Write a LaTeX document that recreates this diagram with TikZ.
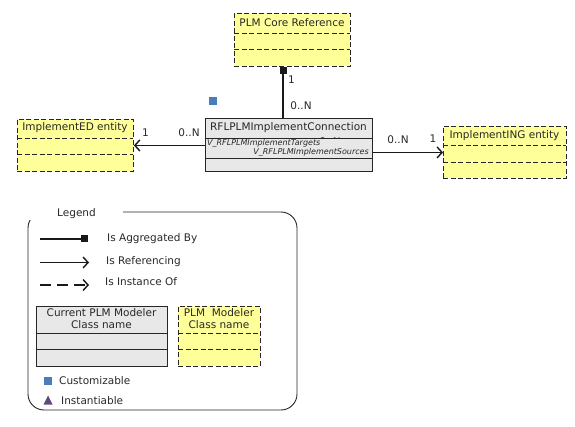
\documentclass[tikz,border=0pt]{standalone}
\usepackage{fontspec}
\setmainfont{DejaVu Sans}
\usetikzlibrary{arrows.meta}
\definecolor{plmyellow}{RGB}{255,255,153}
\definecolor{plmgray}{RGB}{232,232,232}
\definecolor{custblue}{RGB}{74,126,187}
\definecolor{instpurple}{RGB}{96,74,123}
\definecolor{txt}{RGB}{40,40,40}
\begin{document}
\begin{tikzpicture}[x=1pt,y=-1pt,
  font=\fontsize{10.5}{12.5}\selectfont, text=txt,
  cls/.style={draw=black!85, fill=plmgray, line width=0.9pt, rectangle, inner sep=0, anchor=north west},
  ext/.style={draw=black!85, fill=plmyellow, line width=0.9pt, dash pattern=on 5pt off 2.5pt, rectangle, inner sep=0, anchor=north west},
  divline/.style={draw=black!85, line width=0.9pt},
  extdiv/.style={divline, dash pattern=on 5pt off 2.5pt},
  conn/.style={line width=1.3pt, draw=black!90},
  refarrow/.style={conn, -{Straight Barb[length=5pt,width=11pt,line width=1.4pt]}},
  aggline/.style={conn, -{Square[length=7pt,width=7pt]}},
  dashref/.style={refarrow, dash pattern=on 11pt off 6pt},
  lbl/.style={inner sep=0, anchor=center},
  wlbl/.style={inner sep=0, anchor=west},
  attr/.style={font=\fontsize{8}{9}\selectfont\itshape, inner sep=0},
  custsq/.style={fill=custblue, minimum size=8pt, inner sep=0, draw=none, rectangle},
]
\useasboundingbox (0,0) rectangle (575,427);

% ---------- PLM Core Reference ----------
\node[ext, minimum width=116pt, minimum height=53pt] (core) at (234,13) {};
\draw[extdiv] (234,33) -- (350,33);
\draw[extdiv] (234,49) -- (350,49);
\node[lbl] (coret) at (292,22.5) {PLM Core Reference};

% ---------- ImplementED entity ----------
\node[ext, minimum width=116pt, minimum height=52pt] (ed) at (17,119) {};
\draw[extdiv] (17,138) -- (133,138);
\draw[extdiv] (17,154) -- (133,154);
\node[lbl] (edt) at (75,128) {ImplementED entity};

% ---------- ImplementING entity ----------
\node[ext, minimum width=123pt, minimum height=52pt] (ing) at (443,126) {};
\draw[extdiv] (443,145) -- (566,145);
\draw[extdiv] (443,162) -- (566,162);
\node[lbl] (ingt) at (504.5,135.5) {ImplementING entity};

% ---------- Main class ----------
\node[cls, minimum width=167pt, minimum height=53pt] (main) at (205,118) {};
\node[lbl] (mainnt) at (288.5,128) {RFLPLMImplementConnection};
\node[lbl] (hidmult) at (330,141.5) {0..N};
\node[cls, minimum width=167pt, minimum height=20pt] (attrs) at (205,138) {};
\node[attr, anchor=west] (a1) at (207,143) {V\_RFLPLMImplementTargets};
\node[attr, anchor=east] (a2) at (369,152.5) {V\_RFLPLMImplementSources};

% customizable marker
\node[custsq] (cust) at (212.5,101) {};

% ---------- Connectors ----------
\coordinate (aggx) at (283,0);
\draw[aggline] (main.north -| aggx) -- (core.south -| aggx);
\node[lbl] (m1) at (291.5,80) {1};
\node[lbl] (m2) at (301,106) {0..N};

\draw[refarrow] (main.west |- ed.east) -- (ed.east);
\node[lbl] (m3) at (145.5,133) {1};
\node[lbl] (m4) at (189,133) {0..N};

\draw[refarrow] (main.east |- ing.west) -- (ing.west);
\node[lbl] (m5) at (398,140) {0..N};
\node[lbl] (m6) at (433,139) {1};

% ---------- Legend ----------
\draw[draw=black!85, line width=0.9pt, rounded corners=16pt] (28,212) rectangle (297,410);
\fill[white] (20,203) rectangle (123,220.5);
\node[lbl] (legt) at (76.5,214) {Legend};

\coordinate (l1a) at (40,239);
\coordinate (l1b) at (88,239);
\draw[aggline, line width=1.1pt] (l1a) -- (l1b);
\node[wlbl] (l1t) at (107,239) {Is Aggregated By};

\coordinate (l2a) at (40,262.5);
\coordinate (l2b) at (89,262.5);
\draw[refarrow, line width=1.1pt] (l2a) -- (l2b);
\node[wlbl] (l2t) at (106,262) {Is Referencing};

\coordinate (l3a) at (40,285);
\coordinate (l3b) at (89,285);
\draw[dashref, line width=1.1pt] (l3a) -- (l3b);
\node[wlbl] (l3t) at (105,282) {Is Instance Of};

\node[cls, minimum width=131pt, minimum height=60pt] (lgray) at (36,306) {};
\draw[divline] (36,333) -- (167,333);
\draw[divline] (36,349) -- (167,349);
\node[lbl, align=center, font=\fontsize{10.5}{12.5}\selectfont] (lgrayt) at (101.5,318.5) {Current PLM Modeler\\Class name};

\node[ext, minimum width=82pt, minimum height=60pt] (lyel) at (178,306) {};
\draw[extdiv] (178,333) -- (260,333);
\draw[extdiv] (178,349) -- (260,349);
\node[lbl, align=center, font=\fontsize{10.5}{12.5}\selectfont] (lyelt) at (219,318.5) {PLM~ Modeler\\Class name};

\node[custsq] (lcust) at (48,380.5) {};
\node[wlbl] (lcustt) at (59,380.5) {Customizable};

\fill[instpurple] (43.5,404.5) -- (52.5,404.5) -- (48,395.5) -- cycle;
\node[wlbl] (linstt) at (61,400.5) {Instantiable};
\end{tikzpicture}
\end{document}
